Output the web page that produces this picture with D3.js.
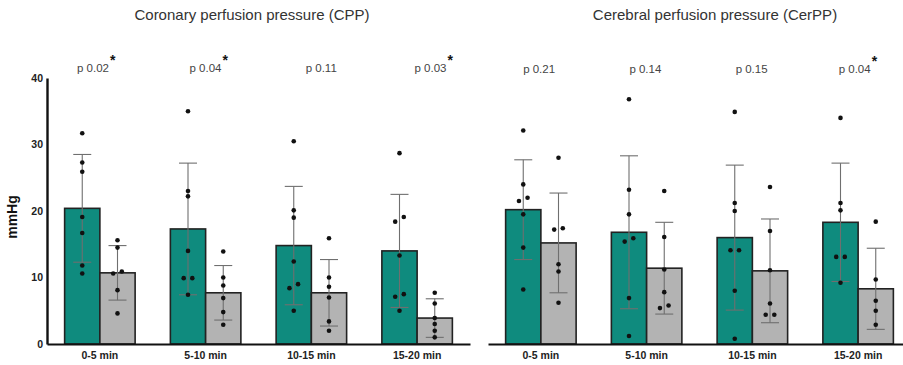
<!DOCTYPE html>
<html>
<head>
<meta charset="utf-8">
<script src="https://cdn.jsdelivr.net/npm/d3@7"></script>
<style>
  body { margin: 0; background: #fff; }
  svg { display: block; font-family: "Liberation Sans", Arial, sans-serif; }
</style>
</head>
<body>
<div id="chart"></div>
<script>
// ---- data ----
const groups = ['0-5 min', '5-10 min', '10-15 min', '15-20 min'];
const yTicks = [0, 10, 20, 30, 40];

const cppTealMean = [20.4, 17.3, 14.8, 14.0];
const cppTealSD = [8.1, 9.9, 8.9, 8.5];
const cppGreyMean = [10.7, 7.7, 7.7, 3.9];
const cppGreySD = [4.1, 4.1, 5.0, 2.9];
const cppTealDots = [
  [31.7, 27.3, 25.9, 19.1, 16.7, 11.8, 10.6],
  [35.0, 23.0, 22.2, 14.0, 9.9, 9.9, 7.4],
  [30.5, 20.1, 19.0, 12.4, 9.0, 8.4, 5.0],
  [28.7, 19.1, 18.4, 13.3, 7.5, 7.1, 5.0]
];
const cppGreyDots = [
  [15.6, 14.5, 10.9, 10.6, 8.1, 4.6],
  [13.9, 10.0, 8.8, 6.9, 4.8, 2.9],
  [15.9, 10.0, 8.6, 7.0, 3.4, 2.0],
  [7.7, 6.1, 3.9, 3.0, 2.0, 1.0]
];
const cppP = ['p 0.02', 'p 0.04', 'p 0.11', 'p 0.03'];
const cppSig = [true, true, false, true];

const cerTealMean = [20.2, 16.8, 16.0, 18.3];
const cerTealSD = [7.5, 11.5, 10.9, 8.9];
const cerGreyMean = [15.2, 11.4, 11.0, 8.3];
const cerGreySD = [7.5, 6.9, 7.8, 6.1];
const cerTealDots = [
  [32.1, 24.0, 22.0, 21.5, 19.5, 14.5, 8.2],
  [36.8, 23.2, 19.5, 15.9, 15.4, 6.9, 1.2],
  [34.9, 21.2, 20.0, 14.1, 14.1, 8.0, 0.8],
  [34.0, 21.2, 20.1, 13.1, 13.1, 9.2]
];
const cerGreyDots = [
  [28.0, 17.4, 17.2, 12.0, 10.9, 6.2],
  [23.0, 16.1, 11.2, 7.8, 5.8, 5.4],
  [23.6, 17.0, 11.1, 6.1, 4.4, 4.4],
  [18.4, 9.7, 6.5, 5.0, 2.9]
];
const cerP = ['p 0.21', 'p 0.14', 'p 0.15', 'p 0.04'];
const cerSig = [false, false, false, true];

// ---- layout ----
const width = 903, height = 365;
const teal = '#0f8b7e', grey = '#b3b3b3';

const svg = d3.select('#chart').append('svg')
  .attr('width', width)
  .attr('height', height);

const y = d3.scaleLinear().domain([0, 40]).range([344, 78]);

// small horizontal offsets for dots whose values nearly coincide
function spread(vals) {
  const order = vals.map((v, i) => i).sort((a, b) => vals[a] - vals[b]);
  const off = vals.map(() => 0);
  for (let k = 0; k < order.length - 1; k++) {
    const a = order[k], b = order[k + 1];
    if (off[a] === 0 && vals[b] - vals[a] < 0.8) {
      off[a] = -4.3;
      off[b] = 4.3;
      k++;
    }
  }
  return off;
}

function panel(opts) {
  const x = d3.scaleBand().domain(groups).range(opts.xRange).padding(0);
  const sub = d3.scaleBand().domain(['a', 'b']).range([0, x.bandwidth()]).paddingOuter(0.5);
  const lx = d3.scaleBand().domain(groups).range(opts.labelRange).padding(0);

  const g = svg.append('g');

  const series = [
    {key: 'a', mean: opts.tealMean, sd: opts.tealSD, dots: opts.tealDots, fill: teal},
    {key: 'b', mean: opts.greyMean, sd: opts.greySD, dots: opts.greyDots, fill: grey}
  ];

  series.forEach(s => {
    const cx = i => x(groups[i]) + sub(s.key) + sub.bandwidth() / 2;

    g.selectAll(null)
      .data(s.mean)
      .enter()
      .append('rect')
      .attr('x', (d, i) => x(groups[i]) + sub(s.key))
      .attr('width', sub.bandwidth())
      .attr('y', d => y(d))
      .attr('height', d => y(0) - y(d))
      .attr('fill', s.fill)
      .attr('stroke', '#222')
      .attr('stroke-width', 1.6);

    const eb = g.selectAll(null)
      .data(s.mean)
      .enter()
      .append('g')
      .attr('stroke', '#6f6f6f')
      .attr('stroke-width', 1.1);
    eb.append('line')
      .attr('x1', (d, i) => cx(i)).attr('x2', (d, i) => cx(i))
      .attr('y1', (d, i) => y(d + s.sd[i])).attr('y2', (d, i) => y(d - s.sd[i]));
    eb.append('line')
      .attr('x1', (d, i) => cx(i) - 9).attr('x2', (d, i) => cx(i) + 9)
      .attr('y1', (d, i) => y(d + s.sd[i])).attr('y2', (d, i) => y(d + s.sd[i]));
    eb.append('line')
      .attr('x1', (d, i) => cx(i) - 9).attr('x2', (d, i) => cx(i) + 9)
      .attr('y1', (d, i) => y(d - s.sd[i])).attr('y2', (d, i) => y(d - s.sd[i]));

    s.dots.forEach((vals, i) => {
      const off = spread(vals);
      g.selectAll(null)
        .data(vals)
        .enter()
        .append('circle')
        .attr('cx', (d, j) => cx(i) + off[j])
        .attr('cy', d => y(d))
        .attr('r', 2.3)
        .attr('fill', '#111');
    });
  });

  // x axis
  const xAxis = g.append('g')
    .attr('transform', `translate(0,${y(0)})`)
    .call(d3.axisBottom(x).tickSize(0).tickPadding(8));
  xAxis.select('.domain').attr('stroke', '#111').attr('stroke-width', 2.2);
  xAxis.selectAll('text')
    .attr('fill', '#222')
    .style('font-size', '10.5px')
    .style('font-weight', 'bold')
    .style('font-family', '"Liberation Sans", Arial, sans-serif');

  // p-values
  const pl = g.selectAll(null)
    .data(opts.p)
    .enter()
    .append('text')
    .attr('x', (d, i) => lx(groups[i]) + lx.bandwidth() / 2)
    .attr('y', opts.pY)
    .attr('text-anchor', 'middle')
    .attr('fill', '#444')
    .style('font-size', '11.5px')
    .text(d => d);
  pl.filter((d, i) => opts.sig[i])
    .append('tspan')
    .attr('dy', -7)
    .attr('dx', 1)
    .style('font-size', '14px')
    .style('font-weight', 'bold')
    .attr('fill', '#111')
    .text('*');

  // title
  g.append('text')
    .attr('x', opts.titleX)
    .attr('y', 20)
    .attr('text-anchor', 'middle')
    .attr('fill', '#333')
    .style('font-size', '15px')
    .text(opts.title);

  return x;
}

panel({
  xRange: [47, 470],
  labelRange: [40, 490],
  tealMean: cppTealMean, tealSD: cppTealSD, tealDots: cppTealDots,
  greyMean: cppGreyMean, greySD: cppGreySD, greyDots: cppGreyDots,
  p: cppP, sig: cppSig, pY: 72,
  title: 'Coronary perfusion pressure (CPP)', titleX: 252
});

panel({
  xRange: [488, 911],
  labelRange: [486, 911],
  tealMean: cerTealMean, tealSD: cerTealSD, tealDots: cerTealDots,
  greyMean: cerGreyMean, greySD: cerGreySD, greyDots: cerGreyDots,
  p: cerP, sig: cerSig, pY: 73,
  title: 'Cerebral perfusion pressure (CerPP)', titleX: 715
});

// y axis (left panel only)
const yAxis = svg.append('g')
  .attr('transform', 'translate(47,0)')
  .call(d3.axisLeft(y).tickValues(yTicks).tickSize(0).tickPadding(4));
yAxis.select('.domain').attr('stroke', '#111').attr('stroke-width', 2.4);
yAxis.selectAll('text')
  .attr('fill', '#222')
  .style('font-size', '10.5px')
  .style('font-weight', 'bold')
  .style('font-family', '"Liberation Sans", Arial, sans-serif');

svg.append('text')
  .attr('transform', 'translate(17,217) rotate(-90)')
  .attr('text-anchor', 'middle')
  .attr('fill', '#111')
  .style('font-size', '14px')
  .style('font-weight', 'bold')
  .text('mmHg');
</script>
</body>
</html>
